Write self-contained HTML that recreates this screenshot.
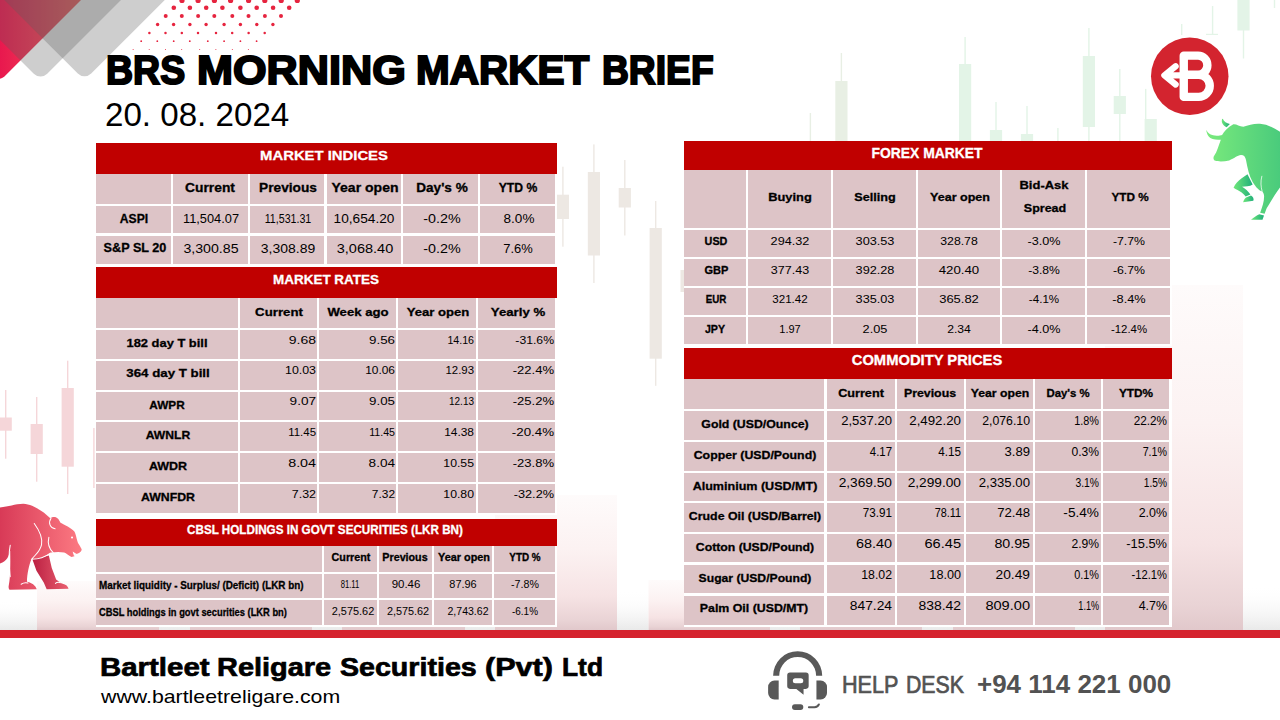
<!DOCTYPE html>
<html lang="en"><head><meta charset="utf-8"><title>BRS Morning Market Brief</title>
<style>
*{margin:0;padding:0;box-sizing:border-box}
html,body{width:1280px;height:720px;overflow:hidden;background:#fff}
body{font-family:"Liberation Sans",sans-serif;color:#000}
#slide{position:relative;width:1280px;height:720px;overflow:hidden;background:#fff}
#bg,#art{position:absolute;left:0;top:0;pointer-events:none}
.tbl{position:absolute;background:#fff}
.hd,.c{position:absolute}
.hd{background:#c00000}
.c{background:#ddc4c7}
.t{position:absolute;white-space:nowrap;line-height:1;display:block}
.t.al{transform-origin:0 50%;transform:scaleX(var(--k))}
.t.ac{transform-origin:50% 50%;transform:translateX(-50%) scaleX(var(--k))}
.t.ar{transform-origin:100% 50%;transform:translateX(-100%) scaleX(var(--k))}
.b{font-weight:700}
h1,p{font-weight:400;font-size:inherit}
</style></head><body><div id="slide">
<svg id="bg" width="1280" height="720" viewBox="0 0 1280 720">
<defs>
<linearGradient id="gRed" gradientUnits="userSpaceOnUse" x1="0" y1="0" x2="80" y2="0"><stop offset="0" stop-color="#e8184e"/><stop offset="1" stop-color="#f85a5b"/></linearGradient>
<linearGradient id="gBear" x1="0" y1="0" x2="1" y2="0"><stop offset="0" stop-color="#d83a57"/><stop offset="1" stop-color="#fc7a82"/></linearGradient>
<linearGradient id="gBearD" x1="0" y1="0" x2="1" y2="0"><stop offset="0" stop-color="#bb1f42"/><stop offset="1" stop-color="#ea6070"/></linearGradient>
<linearGradient id="gBull" x1="0" y1="0" x2="1" y2="0"><stop offset="0" stop-color="#7aea7c"/><stop offset="1" stop-color="#4acb7c"/></linearGradient>
<linearGradient id="gBullD" x1="0" y1="0" x2="1" y2="0"><stop offset="0" stop-color="#6fe77a"/><stop offset="1" stop-color="#1fae7a"/></linearGradient>
<linearGradient id="gBar" x1="0" y1="0" x2="0" y2="1"><stop offset="0" stop-color="#fefbfb"/><stop offset="0.4" stop-color="#fcf2f2"/><stop offset="0.75" stop-color="#f6e3e4"/><stop offset="0.93" stop-color="#e9d3d5"/><stop offset="1" stop-color="#e1c8cb"/></linearGradient>
<linearGradient id="gBarW" x1="0" y1="0" x2="0" y2="1"><stop offset="0" stop-color="#ffffff" stop-opacity="0"/><stop offset="1" stop-color="#e9e9e9" stop-opacity="1"/></linearGradient>
</defs>
<rect x="0" y="600" width="37" height="30" fill="url(#gBarW)"/>
<rect x="159" y="600" width="31" height="30" fill="url(#gBarW)"/>
<rect x="312" y="600" width="30" height="30" fill="url(#gBarW)"/>
<rect x="465" y="600" width="30" height="30" fill="url(#gBarW)"/>
<rect x="617" y="590" width="31.5" height="40" fill="url(#gBarW)"/>
<rect x="770" y="600" width="30" height="30" fill="url(#gBarW)"/>
<rect x="922" y="600" width="31" height="30" fill="url(#gBarW)"/>
<rect x="1075" y="600" width="30" height="30" fill="url(#gBarW)"/>
<rect x="1243" y="585" width="37" height="45" fill="url(#gBarW)"/>
<rect x="37" y="581" width="122" height="49" fill="url(#gBar)"/>
<rect x="190" y="560" width="122" height="70" fill="url(#gBar)"/>
<rect x="342" y="540" width="123" height="90" fill="url(#gBar)"/>
<rect x="495" y="495" width="122" height="135" fill="url(#gBar)"/>
<rect x="648.5" y="580" width="121.5" height="50" fill="url(#gBar)"/>
<rect x="800" y="540" width="122" height="90" fill="url(#gBar)"/>
<rect x="953" y="470" width="122" height="160" fill="url(#gBar)"/>
<rect x="1105" y="285" width="138" height="345" fill="url(#gBar)"/>
<rect x="5" y="390" width="1.4" height="68.7" fill="#f5d6d9"/>
<rect x="-0.4" y="417.5" width="12.2" height="13.2" fill="#f5d6d9"/>
<rect x="36" y="397" width="1.4" height="84.7" fill="#f5d6d9"/>
<rect x="30.6" y="424" width="12.2" height="30" fill="#f5d6d9"/>
<rect x="67" y="360.7" width="1.4" height="133.3" fill="#f5d6d9"/>
<rect x="61.6" y="388" width="12.2" height="78.7" fill="#f5d6d9"/>
<rect x="93.2" y="428" width="1.4" height="60" fill="#f5d6d9"/>
<rect x="562.2" y="166.7" width="1.4" height="80" fill="#ede8e3"/>
<rect x="556.8" y="194.7" width="12.2" height="24.3" fill="#ede8e3"/>
<rect x="593.2" y="144.4" width="1.4" height="138.6" fill="#ede8e3"/>
<rect x="587.8" y="172" width="12.2" height="83.5" fill="#ede8e3"/>
<rect x="624.1" y="160" width="1.4" height="75.5" fill="#ede8e3"/>
<rect x="618.7" y="188" width="12.2" height="19.5" fill="#ede8e3"/>
<rect x="655" y="201" width="1.4" height="184.8" fill="#ede8e3"/>
<rect x="649.6" y="228" width="12.2" height="130.7" fill="#ede8e3"/>
<rect x="685.9" y="250" width="1.4" height="60" fill="#ede8e3"/>
<rect x="680.5" y="270" width="12.2" height="22" fill="#ede8e3"/>
<rect x="809.7" y="113" width="1.4" height="37" fill="#e8efe4"/>
<rect x="840.7" y="53" width="1.4" height="97" fill="#e8efe4"/>
<rect x="835.3" y="81" width="12.2" height="69" fill="#e8efe4"/>
<rect x="964.4" y="37" width="1.4" height="113" fill="#e3f4e7"/>
<rect x="959" y="64" width="12.2" height="86" fill="#e3f4e7"/>
<rect x="995.3" y="102" width="1.4" height="48" fill="#e3f4e7"/>
<rect x="989.9" y="130" width="12.2" height="20" fill="#e3f4e7"/>
<rect x="1026.3" y="106" width="1.4" height="44" fill="#e3f4e7"/>
<rect x="1020.9" y="134" width="12.2" height="16" fill="#e3f4e7"/>
<rect x="1057.2" y="128" width="1.4" height="22" fill="#e3f4e7"/>
<rect x="1088.2" y="28" width="1.4" height="117" fill="#e3f4e7"/>
<rect x="1082.8" y="56" width="12.2" height="71" fill="#e3f4e7"/>
<rect x="1119.1" y="69" width="1.4" height="76" fill="#e3f4e7"/>
<rect x="1113.7" y="96" width="12.2" height="18" fill="#e3f4e7"/>
<rect x="1150" y="119" width="1.4" height="31" fill="#e3f4e7"/>
<rect x="1144.6" y="119" width="12.2" height="31" fill="#e3f4e7"/>
<rect x="1145" y="88.9" width="1.4" height="61.1" fill="#e3f4e7"/>
<rect x="1181" y="24" width="1.4" height="11" fill="#e3f4e7"/>
<rect x="1242.8" y="0" width="1.4" height="58.5" fill="#e3f4e7"/>
<rect x="1237.4" y="0" width="12.2" height="30.5" fill="#e3f4e7"/>
<rect x="1273.8" y="0" width="1.4" height="8" fill="#e3f4e7"/>
<rect x="1211.9" y="6" width="1.4" height="28.5" fill="#e3f4e7"/><rect x="1206" y="33.8" width="12" height="1.2" fill="#e3f4e7"/>
<circle cx="182.0" cy="0.5" r="2.6" fill="#e6243f"/>
<circle cx="198.1" cy="0.5" r="2.6" fill="#e6243f"/>
<circle cx="214.4" cy="0.5" r="2.6" fill="#e6243f"/>
<circle cx="230.6" cy="0.5" r="2.6" fill="#e6243f"/>
<circle cx="248.6" cy="0.5" r="2.6" fill="#e6243f"/>
<circle cx="264.8" cy="0.5" r="2.6" fill="#e6243f"/>
<circle cx="281.2" cy="0.5" r="2.6" fill="#e6243f"/>
<circle cx="297.3" cy="0.5" r="2.6" fill="#e6243f"/>
<circle cx="173.8" cy="7.8" r="2.3" fill="#e6243f"/>
<circle cx="189.9" cy="7.8" r="2.3" fill="#e6243f"/>
<circle cx="206.2" cy="7.8" r="2.3" fill="#e6243f"/>
<circle cx="222.4" cy="7.8" r="2.3" fill="#e6243f"/>
<circle cx="240.4" cy="7.8" r="2.3" fill="#e6243f"/>
<circle cx="256.7" cy="7.8" r="2.3" fill="#e6243f"/>
<circle cx="273.1" cy="7.8" r="2.3" fill="#e6243f"/>
<circle cx="289.2" cy="7.8" r="2.3" fill="#e6243f"/>
<circle cx="165.7" cy="16.1" r="2" fill="#e6243f"/>
<circle cx="181.8" cy="16.1" r="2" fill="#e6243f"/>
<circle cx="198.1" cy="16.1" r="2" fill="#e6243f"/>
<circle cx="214.3" cy="16.1" r="2" fill="#e6243f"/>
<circle cx="232.3" cy="16.1" r="2" fill="#e6243f"/>
<circle cx="248.5" cy="16.1" r="2" fill="#e6243f"/>
<circle cx="264.9" cy="16.1" r="2" fill="#e6243f"/>
<circle cx="281.0" cy="16.1" r="2" fill="#e6243f"/>
<circle cx="157.6" cy="24.5" r="1.7" fill="#e6243f"/>
<circle cx="173.6" cy="24.5" r="1.7" fill="#e6243f"/>
<circle cx="189.9" cy="24.5" r="1.7" fill="#e6243f"/>
<circle cx="206.1" cy="24.5" r="1.7" fill="#e6243f"/>
<circle cx="224.1" cy="24.5" r="1.7" fill="#e6243f"/>
<circle cx="240.4" cy="24.5" r="1.7" fill="#e6243f"/>
<circle cx="256.8" cy="24.5" r="1.7" fill="#e6243f"/>
<circle cx="272.9" cy="24.5" r="1.7" fill="#e6243f"/>
<circle cx="149.4" cy="33.0" r="1.25" fill="#e6243f"/>
<circle cx="165.5" cy="33.0" r="1.25" fill="#e6243f"/>
<circle cx="181.8" cy="33.0" r="1.25" fill="#e6243f"/>
<circle cx="198.0" cy="33.0" r="1.25" fill="#e6243f"/>
<circle cx="216.0" cy="33.0" r="1.25" fill="#e6243f"/>
<circle cx="232.2" cy="33.0" r="1.25" fill="#e6243f"/>
<circle cx="248.6" cy="33.0" r="1.25" fill="#e6243f"/>
<circle cx="264.7" cy="33.0" r="1.25" fill="#e6243f"/>
<circle cx="141.2" cy="41.2" r="0.9" fill="#e6243f"/>
<circle cx="157.3" cy="41.2" r="0.9" fill="#e6243f"/>
<circle cx="173.7" cy="41.2" r="0.9" fill="#e6243f"/>
<circle cx="189.8" cy="41.2" r="0.9" fill="#e6243f"/>
<circle cx="207.8" cy="41.2" r="0.9" fill="#e6243f"/>
<circle cx="224.1" cy="41.2" r="0.9" fill="#e6243f"/>
<circle cx="240.4" cy="41.2" r="0.9" fill="#e6243f"/>
<circle cx="256.6" cy="41.2" r="0.9" fill="#e6243f"/>
<circle cx="133.1" cy="49.4" r="0.5" fill="#e6243f"/>
<circle cx="149.2" cy="49.4" r="0.5" fill="#e6243f"/>
<circle cx="165.5" cy="49.4" r="0.5" fill="#e6243f"/>
<circle cx="181.7" cy="49.4" r="0.5" fill="#e6243f"/>
<circle cx="199.7" cy="49.4" r="0.5" fill="#e6243f"/>
<circle cx="215.9" cy="49.4" r="0.5" fill="#e6243f"/>
<circle cx="232.3" cy="49.4" r="0.5" fill="#e6243f"/>
<circle cx="248.4" cy="49.4" r="0.5" fill="#e6243f"/>
<path fill="url(#gRed)" d="M91 -10 L4.2 76.8 Q-0.5 80.5 -5.2 76.8 L-50 32 L-50 -10 Z"/>
<rect x="-89.5" y="-49.5" width="130" height="130" rx="9.5" fill="rgba(93,93,93,0.303)" transform="rotate(45 40.5 80.5)"/>
<rect x="-45.5" y="-49.7" width="130" height="130" rx="9.5" fill="rgba(93,93,93,0.303)" transform="rotate(45 84.5 80.3)"/>
<rect x="0" y="630" width="1280" height="8" fill="#d5232e"/>
</svg>
<section class="tbl" id="indices" style="left:96px;top:142.8px;width:461px;height:123.3px">
<div class="hd" style="left:0;top:0;width:461px;height:31px"><span class="t ac b" id="t1" style="left:228.07px;top:5.87px;font-size:13.70px;--k:1.0846;color:#fff;-webkit-text-stroke:0.3px">MARKET INDICES</span></div>
<div class="c" style="left:0px;top:31px;width:75px;height:29.9px"></div>
<div class="c" style="left:76.9px;top:31px;width:75.1px;height:29.9px"><span class="t ac b" id="t2" style="left:37.45px;top:8.06px;font-size:12.80px;--k:1.0798;-webkit-text-stroke:0.3px">Current</span></div>
<div class="c" style="left:154px;top:31px;width:74px;height:29.9px"><span class="t ac b" id="t3" style="left:38.06px;top:8.06px;font-size:12.80px;--k:1.0697;-webkit-text-stroke:0.3px">Previous</span></div>
<div class="c" style="left:230.9px;top:31px;width:73.9px;height:29.9px"><span class="t ac b" id="t4" style="left:38.05px;top:8.06px;font-size:12.80px;--k:1.0954;-webkit-text-stroke:0.3px">Year open</span></div>
<div class="c" style="left:307.2px;top:31px;width:74.8px;height:29.9px"><span class="t ac b" id="t5" style="left:38.42px;top:8.06px;font-size:12.80px;--k:1.0612;-webkit-text-stroke:0.3px">Day's %</span></div>
<div class="c" style="left:384.1px;top:31px;width:75px;height:29.9px"><span class="t ac b" id="t6" style="left:38.10px;top:8.06px;font-size:12.80px;--k:0.9502;-webkit-text-stroke:0.3px">YTD %</span></div>
<div class="c" style="left:0px;top:63px;width:75px;height:27.7px"><span class="t ac b" id="t7" style="left:37.71px;top:7.16px;font-size:12.80px;--k:0.9484;-webkit-text-stroke:0.3px">ASPI</span></div>
<div class="c" style="left:76.9px;top:63px;width:75.1px;height:27.7px"><span class="t ac" id="t8" style="left:38.21px;top:7.31px;font-size:12.80px;--k:1.0007">11,504.07</span></div>
<div class="c" style="left:154px;top:63px;width:74px;height:27.7px"><span class="t ac" id="t9" style="left:37.80px;top:7.31px;font-size:12.80px;--k:0.8324">11,531.31</span></div>
<div class="c" style="left:230.9px;top:63px;width:73.9px;height:27.7px"><span class="t ac" id="t10" style="left:37.51px;top:7.31px;font-size:12.80px;--k:1.0684">10,654.20</span></div>
<div class="c" style="left:307.2px;top:63px;width:74.8px;height:27.7px"><span class="t ac" id="t11" style="left:39.24px;top:7.31px;font-size:12.80px;--k:1.1180">-0.2%</span></div>
<div class="c" style="left:384.1px;top:63px;width:75px;height:27.7px"><span class="t ac" id="t12" style="left:38.80px;top:7.31px;font-size:12.80px;--k:1.0559">8.0%</span></div>
<div class="c" style="left:0px;top:92.9px;width:75px;height:28.7px"><span class="t ac b" id="t13" style="left:38.86px;top:6.78px;font-size:12.80px;--k:0.9876;-webkit-text-stroke:0.3px">S&amp;P SL 20</span></div>
<div class="c" style="left:76.9px;top:92.9px;width:75.1px;height:28.7px"><span class="t ac" id="t14" style="left:37.86px;top:6.93px;font-size:12.80px;--k:1.1067">3,300.85</span></div>
<div class="c" style="left:154px;top:92.9px;width:74px;height:28.7px"><span class="t ac" id="t15" style="left:37.56px;top:6.93px;font-size:12.80px;--k:1.0906">3,308.89</span></div>
<div class="c" style="left:230.9px;top:92.9px;width:73.9px;height:28.7px"><span class="t ac" id="t16" style="left:37.82px;top:6.93px;font-size:12.80px;--k:1.1329">3,068.40</span></div>
<div class="c" style="left:307.2px;top:92.9px;width:74.8px;height:28.7px"><span class="t ac" id="t17" style="left:39.24px;top:6.93px;font-size:12.80px;--k:1.1180">-0.2%</span></div>
<div class="c" style="left:384.1px;top:92.9px;width:75px;height:28.7px"><span class="t ac" id="t18" style="left:38.14px;top:6.93px;font-size:12.80px;--k:1.0108">7.6%</span></div>
</section>
<section class="tbl" id="rates" style="left:96px;top:266.8px;width:461px;height:248.1px">
<div class="hd" style="left:0;top:0;width:461px;height:31.2px"><span class="t ac b" id="t19" style="left:230.06px;top:6.06px;font-size:13.70px;--k:0.9824;color:#fff;-webkit-text-stroke:0.3px">MARKET RATES</span></div>
<div class="c" style="left:0px;top:31.2px;width:142px;height:30.2px"></div>
<div class="c" style="left:144.1px;top:31.2px;width:76.8px;height:30.2px"><span class="t ac b" id="t20" style="left:39.02px;top:7.57px;font-size:11.60px;--k:1.1403;-webkit-text-stroke:0.3px">Current</span></div>
<div class="c" style="left:223px;top:31.2px;width:76.9px;height:30.2px"><span class="t ac b" id="t21" style="left:39.25px;top:7.57px;font-size:11.60px;--k:1.1351;-webkit-text-stroke:0.3px">Week ago</span></div>
<div class="c" style="left:302px;top:31.2px;width:77.8px;height:30.2px"><span class="t ac b" id="t22" style="left:39.80px;top:7.57px;font-size:11.60px;--k:1.1313;-webkit-text-stroke:0.3px">Year open</span></div>
<div class="c" style="left:382px;top:31.2px;width:76.9px;height:30.2px"><span class="t ac b" id="t23" style="left:39.68px;top:7.57px;font-size:11.60px;--k:1.1374;-webkit-text-stroke:0.3px">Yearly %</span></div>
<div class="c" style="left:0px;top:63.4px;width:142px;height:28.8px"><span class="t ac b" id="t24" style="left:71.22px;top:6.87px;font-size:11.60px;--k:1.1117;-webkit-text-stroke:0.3px">182 day T bill</span></div>
<div class="c" style="left:144.1px;top:63.4px;width:76.8px;height:28.8px"><span class="t ar" id="t25" style="left:76.01px;top:4.72px;font-size:11.40px;--k:1.2274">9.68</span></div>
<div class="c" style="left:223px;top:63.4px;width:76.9px;height:28.8px"><span class="t ar" id="t26" style="left:75.69px;top:4.72px;font-size:11.40px;--k:1.1679">9.56</span></div>
<div class="c" style="left:302px;top:63.4px;width:77.8px;height:28.8px"><span class="t ar" id="t27" style="left:75.91px;top:4.72px;font-size:11.40px;--k:0.9336">14.16</span></div>
<div class="c" style="left:382px;top:63.4px;width:76.9px;height:28.8px"><span class="t ar" id="t28" style="left:76.04px;top:4.72px;font-size:11.40px;--k:1.0706">-31.6%</span></div>
<div class="c" style="left:0px;top:94.2px;width:142px;height:29px"><span class="t ac b" id="t29" style="left:71.88px;top:6.48px;font-size:11.60px;--k:1.1462;-webkit-text-stroke:0.3px">364 day T bill</span></div>
<div class="c" style="left:144.1px;top:94.2px;width:76.8px;height:29px"><span class="t ar" id="t30" style="left:75.96px;top:4.42px;font-size:11.40px;--k:1.0863">10.03</span></div>
<div class="c" style="left:223px;top:94.2px;width:76.9px;height:29px"><span class="t ar" id="t31" style="left:75.65px;top:4.42px;font-size:11.40px;--k:1.0472">10.06</span></div>
<div class="c" style="left:302px;top:94.2px;width:77.8px;height:29px"><span class="t ar" id="t32" style="left:75.94px;top:4.42px;font-size:11.40px;--k:1.0011">12.93</span></div>
<div class="c" style="left:382px;top:94.2px;width:76.9px;height:29px"><span class="t ar" id="t33" style="left:76.05px;top:4.42px;font-size:11.40px;--k:1.1456">-22.4%</span></div>
<div class="c" style="left:0px;top:125.2px;width:142px;height:28px"><span class="t ac b" id="t34" style="left:71.28px;top:6.68px;font-size:11.60px;--k:1.0139;-webkit-text-stroke:0.3px">AWPR</span></div>
<div class="c" style="left:144.1px;top:125.2px;width:76.8px;height:28px"><span class="t ar" id="t35" style="left:76.00px;top:4.32px;font-size:11.40px;--k:1.1908">9.07</span></div>
<div class="c" style="left:223px;top:125.2px;width:76.9px;height:28px"><span class="t ar" id="t36" style="left:75.69px;top:4.32px;font-size:11.40px;--k:1.1679">9.05</span></div>
<div class="c" style="left:302px;top:125.2px;width:77.8px;height:28px"><span class="t ar" id="t37" style="left:75.89px;top:4.32px;font-size:11.40px;--k:0.8768">12.13</span></div>
<div class="c" style="left:382px;top:125.2px;width:76.9px;height:28px"><span class="t ar" id="t38" style="left:76.05px;top:4.32px;font-size:11.40px;--k:1.1456">-25.2%</span></div>
<div class="c" style="left:0px;top:155.2px;width:142px;height:29px"><span class="t ac b" id="t39" style="left:71.70px;top:6.68px;font-size:11.60px;--k:1.0468;-webkit-text-stroke:0.3px">AWNLR</span></div>
<div class="c" style="left:144.1px;top:155.2px;width:76.8px;height:29px"><span class="t ar" id="t40" style="left:75.94px;top:4.72px;font-size:11.40px;--k:1.0028">11.45</span></div>
<div class="c" style="left:223px;top:155.2px;width:76.9px;height:29px"><span class="t ar" id="t41" style="left:75.61px;top:4.72px;font-size:11.40px;--k:0.9333">11.45</span></div>
<div class="c" style="left:302px;top:155.2px;width:77.8px;height:29px"><span class="t ar" id="t42" style="left:75.95px;top:4.72px;font-size:11.40px;--k:1.0472">14.38</span></div>
<div class="c" style="left:382px;top:155.2px;width:76.9px;height:29px"><span class="t ar" id="t43" style="left:76.05px;top:4.72px;font-size:11.40px;--k:1.1679">-20.4%</span></div>
<div class="c" style="left:0px;top:186.2px;width:142px;height:29px"><span class="t ac b" id="t44" style="left:71.71px;top:6.68px;font-size:11.60px;--k:1.0763;-webkit-text-stroke:0.3px">AWDR</span></div>
<div class="c" style="left:144.1px;top:186.2px;width:76.8px;height:29px"><span class="t ar" id="t45" style="left:76.02px;top:4.63px;font-size:11.40px;--k:1.2549">8.04</span></div>
<div class="c" style="left:223px;top:186.2px;width:76.9px;height:29px"><span class="t ar" id="t46" style="left:75.70px;top:4.63px;font-size:11.40px;--k:1.1908">8.04</span></div>
<div class="c" style="left:302px;top:186.2px;width:77.8px;height:29px"><span class="t ar" id="t47" style="left:75.96px;top:4.63px;font-size:11.40px;--k:1.0756">10.55</span></div>
<div class="c" style="left:382px;top:186.2px;width:76.9px;height:29px"><span class="t ar" id="t48" style="left:76.05px;top:4.63px;font-size:11.40px;--k:1.1456">-23.8%</span></div>
<div class="c" style="left:0px;top:217.2px;width:142px;height:29.2px"><span class="t ac b" id="t49" style="left:71.82px;top:6.68px;font-size:11.60px;--k:1.0601;-webkit-text-stroke:0.3px">AWNFDR</span></div>
<div class="c" style="left:144.1px;top:217.2px;width:76.8px;height:29.2px"><span class="t ar" id="t50" style="left:75.97px;top:4.63px;font-size:11.40px;--k:1.0900">7.32</span></div>
<div class="c" style="left:223px;top:217.2px;width:76.9px;height:29.2px"><span class="t ar" id="t51" style="left:75.65px;top:4.63px;font-size:11.40px;--k:1.0442">7.32</span></div>
<div class="c" style="left:302px;top:217.2px;width:77.8px;height:29.2px"><span class="t ar" id="t52" style="left:75.96px;top:4.63px;font-size:11.40px;--k:1.0756">10.80</span></div>
<div class="c" style="left:382px;top:217.2px;width:76.9px;height:29.2px"><span class="t ar" id="t53" style="left:76.04px;top:4.63px;font-size:11.40px;--k:1.1150">-32.2%</span></div>
</section>
<section class="tbl" id="cbsl" style="left:96px;top:519px;width:461px;height:107.5px">
<div class="hd" style="left:0;top:0;width:461px;height:27px"><span class="t ac b" id="t54" style="left:229.33px;top:4.87px;font-size:12.20px;--k:0.9571;color:#fff;-webkit-text-stroke:0.3px">CBSL HOLDINGS IN GOVT SECURITIES (LKR BN)</span></div>
<div class="c" style="left:0px;top:27px;width:225.8px;height:25.7px"></div>
<div class="c" style="left:228.1px;top:27px;width:52.9px;height:25.7px"><span class="t ac b" id="t55" style="left:26.73px;top:6.86px;font-size:10.20px;--k:1.0535;-webkit-text-stroke:0.3px">Current</span></div>
<div class="c" style="left:282.9px;top:27px;width:53.2px;height:25.7px"><span class="t ac b" id="t56" style="left:26.37px;top:6.86px;font-size:10.20px;--k:1.0515;-webkit-text-stroke:0.3px">Previous</span></div>
<div class="c" style="left:338px;top:27px;width:57.7px;height:25.7px"><span class="t ac b" id="t57" style="left:29.92px;top:6.86px;font-size:10.20px;--k:1.0666;-webkit-text-stroke:0.3px">Year open</span></div>
<div class="c" style="left:397.6px;top:27px;width:61.5px;height:25.7px"><span class="t ac b" id="t58" style="left:31.68px;top:6.86px;font-size:10.20px;--k:0.9688;-webkit-text-stroke:0.3px">YTD %</span></div>
<div class="c" style="left:0px;top:54.5px;width:225.8px;height:24.5px"><span class="t al b" id="t59" style="left:2.55px;top:6.35px;font-size:11.20px;--k:0.8824;-webkit-text-stroke:0.3px">Market liquidity - Surplus/ (Deficit) (LKR bn)</span></div>
<div class="c" style="left:228.1px;top:54.5px;width:52.9px;height:24.5px"><span class="t ac" id="t61" style="left:26.37px;top:6.70px;font-size:10.20px;--k:0.7499">81.11</span></div>
<div class="c" style="left:282.9px;top:54.5px;width:53.2px;height:24.5px"><span class="t ac" id="t62" style="left:26.76px;top:6.70px;font-size:10.20px;--k:1.1267">90.46</span></div>
<div class="c" style="left:338px;top:54.5px;width:57.7px;height:24.5px"><span class="t ac" id="t63" style="left:29.17px;top:6.70px;font-size:10.20px;--k:1.0725">87.96</span></div>
<div class="c" style="left:397.6px;top:54.5px;width:61.5px;height:24.5px"><span class="t ac" id="t64" style="left:31.13px;top:6.70px;font-size:10.20px;--k:1.0469">-7.8%</span></div>
<div class="c" style="left:0px;top:81px;width:225.8px;height:24.8px"><span class="t al b" id="t60" style="left:2.55px;top:6.55px;font-size:11.20px;--k:0.8336;-webkit-text-stroke:0.3px">CBSL holdings in govt securities (LKR bn)</span></div>
<div class="c" style="left:228.1px;top:81px;width:52.9px;height:24.8px"><span class="t ac" id="t65" style="left:29.32px;top:7.01px;font-size:10.20px;--k:1.0703">2,575.62</span></div>
<div class="c" style="left:282.9px;top:81px;width:53.2px;height:24.8px"><span class="t ac" id="t66" style="left:29.42px;top:7.01px;font-size:10.20px;--k:1.0653">2,575.62</span></div>
<div class="c" style="left:338px;top:81px;width:57.7px;height:24.8px"><span class="t ac" id="t67" style="left:34.08px;top:7.01px;font-size:10.20px;--k:1.0328">2,743.62</span></div>
<div class="c" style="left:397.6px;top:81px;width:61.5px;height:24.8px"><span class="t ac" id="t68" style="left:31.08px;top:7.01px;font-size:10.20px;--k:0.9754">-6.1%</span></div>
</section>
<section class="tbl" id="forex" style="left:684px;top:141px;width:488px;height:204.7px">
<div class="hd" style="left:0;top:0;width:488px;height:29px"><span class="t ac b" id="t69" style="left:243.14px;top:4.86px;font-size:14.20px;--k:0.9786;color:#fff;-webkit-text-stroke:0.3px">FOREX MARKET</span></div>
<div class="c" style="left:0px;top:29px;width:62px;height:58px"></div>
<div class="c" style="left:64px;top:29px;width:83px;height:58px"><span class="t ac b" id="t70" style="left:42.05px;top:21.06px;font-size:11.60px;--k:1.1070;-webkit-text-stroke:0.3px">Buying</span></div>
<div class="c" style="left:149.2px;top:29px;width:82.8px;height:58px"><span class="t ac b" id="t71" style="left:42.14px;top:21.06px;font-size:11.60px;--k:1.0890;-webkit-text-stroke:0.3px">Selling</span></div>
<div class="c" style="left:234px;top:29px;width:82.2px;height:58px"><span class="t ac b" id="t72" style="left:41.64px;top:20.66px;font-size:11.60px;--k:1.0825;-webkit-text-stroke:0.3px">Year open</span></div>
<div class="c" style="left:318.2px;top:29px;width:82.8px;height:58px"><span class="t ac b" id="t73" style="left:41.59px;top:8.86px;font-size:11.60px;--k:1.1182;-webkit-text-stroke:0.3px">Bid-Ask</span><span class="t ac b" id="t74" style="left:42.34px;top:31.86px;font-size:11.60px;--k:1.0785;-webkit-text-stroke:0.3px">Spread</span></div>
<div class="c" style="left:403px;top:29px;width:82.7px;height:58px"><span class="t ac b" id="t75" style="left:42.86px;top:20.66px;font-size:11.60px;--k:1.0135;-webkit-text-stroke:0.3px">YTD %</span></div>
<div class="c" style="left:0px;top:88.6px;width:62px;height:27.4px"><span class="t ac b" id="t76" style="left:31.92px;top:5.96px;font-size:11.00px;--k:0.9793;-webkit-text-stroke:0.3px">USD</span></div>
<div class="c" style="left:64px;top:88.6px;width:83px;height:27.4px"><span class="t ac" id="t77" style="left:41.94px;top:5.91px;font-size:10.60px;--k:1.1965">294.32</span></div>
<div class="c" style="left:149.2px;top:88.6px;width:82.8px;height:27.4px"><span class="t ac" id="t78" style="left:41.64px;top:5.91px;font-size:10.60px;--k:1.1996">303.53</span></div>
<div class="c" style="left:234px;top:88.6px;width:82.2px;height:27.4px"><span class="t ac" id="t79" style="left:41.24px;top:5.91px;font-size:10.60px;--k:1.1566">328.78</span></div>
<div class="c" style="left:318.2px;top:88.6px;width:82.8px;height:27.4px"><span class="t ac" id="t80" style="left:41.75px;top:5.91px;font-size:10.60px;--k:1.1927">-3.0%</span></div>
<div class="c" style="left:403px;top:88.6px;width:82.7px;height:27.4px"><span class="t ac" id="t81" style="left:42.36px;top:5.91px;font-size:10.60px;--k:1.1609">-7.7%</span></div>
<div class="c" style="left:0px;top:118px;width:62px;height:27px"><span class="t ac b" id="t82" style="left:32.47px;top:5.65px;font-size:11.00px;--k:1.0000;-webkit-text-stroke:0.3px">GBP</span></div>
<div class="c" style="left:64px;top:118px;width:83px;height:27px"><span class="t ac" id="t83" style="left:41.94px;top:5.60px;font-size:10.60px;--k:1.1812">377.43</span></div>
<div class="c" style="left:149.2px;top:118px;width:82.8px;height:27px"><span class="t ac" id="t84" style="left:41.64px;top:5.60px;font-size:10.60px;--k:1.1996">392.28</span></div>
<div class="c" style="left:234px;top:118px;width:82.2px;height:27px"><span class="t ac" id="t85" style="left:41.23px;top:5.60px;font-size:10.60px;--k:1.2488">420.40</span></div>
<div class="c" style="left:318.2px;top:118px;width:82.8px;height:27px"><span class="t ac" id="t86" style="left:41.77px;top:5.60px;font-size:10.60px;--k:1.1467">-3.8%</span></div>
<div class="c" style="left:403px;top:118px;width:82.7px;height:27px"><span class="t ac" id="t87" style="left:42.36px;top:5.60px;font-size:10.60px;--k:1.1609">-6.7%</span></div>
<div class="c" style="left:0px;top:147.2px;width:62px;height:26.8px"><span class="t ac b" id="t88" style="left:31.78px;top:6.08px;font-size:11.00px;--k:0.8891;-webkit-text-stroke:0.3px">EUR</span></div>
<div class="c" style="left:64px;top:147.2px;width:83px;height:26.8px"><span class="t ac" id="t89" style="left:41.94px;top:6.02px;font-size:10.60px;--k:1.0920">321.42</span></div>
<div class="c" style="left:149.2px;top:147.2px;width:82.8px;height:26.8px"><span class="t ac" id="t90" style="left:41.64px;top:6.02px;font-size:10.60px;--k:1.1996">335.03</span></div>
<div class="c" style="left:234px;top:147.2px;width:82.2px;height:26.8px"><span class="t ac" id="t91" style="left:41.23px;top:6.02px;font-size:10.60px;--k:1.2242">365.82</span></div>
<div class="c" style="left:318.2px;top:147.2px;width:82.8px;height:26.8px"><span class="t ac" id="t92" style="left:41.78px;top:6.02px;font-size:10.60px;--k:1.0936">-4.1%</span></div>
<div class="c" style="left:403px;top:147.2px;width:82.7px;height:26.8px"><span class="t ac" id="t93" style="left:42.35px;top:6.02px;font-size:10.60px;--k:1.2033">-8.4%</span></div>
<div class="c" style="left:0px;top:176.2px;width:62px;height:26.8px"><span class="t ac b" id="t94" style="left:31.48px;top:6.58px;font-size:11.00px;--k:0.9648;-webkit-text-stroke:0.3px">JPY</span></div>
<div class="c" style="left:64px;top:176.2px;width:83px;height:26.8px"><span class="t ac" id="t95" style="left:41.94px;top:6.52px;font-size:10.60px;--k:1.0373">1.97</span></div>
<div class="c" style="left:149.2px;top:176.2px;width:82.8px;height:26.8px"><span class="t ac" id="t96" style="left:41.63px;top:6.52px;font-size:10.60px;--k:1.2013">2.05</span></div>
<div class="c" style="left:234px;top:176.2px;width:82.2px;height:26.8px"><span class="t ac" id="t97" style="left:41.24px;top:6.52px;font-size:10.60px;--k:1.1483">2.34</span></div>
<div class="c" style="left:318.2px;top:176.2px;width:82.8px;height:26.8px"><span class="t ac" id="t98" style="left:41.75px;top:6.52px;font-size:10.60px;--k:1.1892">-4.0%</span></div>
<div class="c" style="left:403px;top:176.2px;width:82.7px;height:26.8px"><span class="t ac" id="t99" style="left:42.39px;top:6.52px;font-size:10.60px;--k:1.0748">-12.4%</span></div>
</section>
<section class="tbl" id="commodity" style="left:684px;top:348px;width:488px;height:278.7px">
<div class="hd" style="left:0;top:0;width:488px;height:31px"><span class="t ac b" id="t100" style="left:242.64px;top:4.66px;font-size:14.20px;--k:1.0396;color:#fff;-webkit-text-stroke:0.3px">COMMODITY PRICES</span></div>
<div class="c" style="left:0px;top:31px;width:140px;height:30px"></div>
<div class="c" style="left:143px;top:31px;width:68.2px;height:30px"><span class="t ac b" id="t101" style="left:34.19px;top:8.66px;font-size:11.20px;--k:1.1309;-webkit-text-stroke:0.3px">Current</span></div>
<div class="c" style="left:213.2px;top:31px;width:66.6px;height:30px"><span class="t ac b" id="t102" style="left:33.02px;top:8.66px;font-size:11.20px;--k:1.1034;-webkit-text-stroke:0.3px">Previous</span></div>
<div class="c" style="left:282px;top:31px;width:67.2px;height:30px"><span class="t ac b" id="t103" style="left:33.76px;top:8.66px;font-size:11.20px;--k:1.0925;-webkit-text-stroke:0.3px">Year open</span></div>
<div class="c" style="left:351.4px;top:31px;width:65.6px;height:30px"><span class="t ac b" id="t104" style="left:32.62px;top:8.66px;font-size:11.20px;--k:1.0161;-webkit-text-stroke:0.3px">Day's %</span></div>
<div class="c" style="left:419px;top:31px;width:66.3px;height:30px"><span class="t ac b" id="t105" style="left:32.57px;top:8.66px;font-size:11.20px;--k:1.0533;-webkit-text-stroke:0.3px">YTD%</span></div>
<div class="c" style="left:0px;top:63px;width:140px;height:29px"><span class="t ac b" id="t106" style="left:71.03px;top:6.66px;font-size:11.60px;--k:1.0616;-webkit-text-stroke:0.3px">Gold (USD/Ounce)</span></div>
<div class="c" style="left:143px;top:63px;width:68.2px;height:29px"><span class="t ar" id="t107" style="left:65.34px;top:4.01px;font-size:12.00px;--k:1.0885">2,537.20</span></div>
<div class="c" style="left:213.2px;top:63px;width:66.6px;height:29px"><span class="t ar" id="t108" style="left:64.24px;top:4.01px;font-size:12.00px;--k:1.1076">2,492.20</span></div>
<div class="c" style="left:282px;top:63px;width:67.2px;height:29px"><span class="t ar" id="t109" style="left:64.37px;top:4.01px;font-size:12.00px;--k:1.0226">2,076.10</span></div>
<div class="c" style="left:351.4px;top:63px;width:65.6px;height:29px"><span class="t ar" id="t110" style="left:63.50px;top:4.01px;font-size:12.00px;--k:0.9067">1.8%</span></div>
<div class="c" style="left:419px;top:63px;width:66.3px;height:29px"><span class="t ar" id="t111" style="left:64.18px;top:4.01px;font-size:12.00px;--k:0.9780">22.2%</span></div>
<div class="c" style="left:0px;top:94px;width:140px;height:29px"><span class="t ac b" id="t112" style="left:71.43px;top:6.96px;font-size:11.60px;--k:1.0631;-webkit-text-stroke:0.3px">Copper (USD/Pound)</span></div>
<div class="c" style="left:143px;top:94px;width:68.2px;height:29px"><span class="t ar" id="t113" style="left:65.39px;top:4.01px;font-size:12.00px;--k:0.9501">4.17</span></div>
<div class="c" style="left:213.2px;top:94px;width:66.6px;height:29px"><span class="t ar" id="t114" style="left:64.28px;top:4.01px;font-size:12.00px;--k:0.9712">4.15</span></div>
<div class="c" style="left:282px;top:94px;width:67.2px;height:29px"><span class="t ar" id="t115" style="left:64.34px;top:4.01px;font-size:12.00px;--k:1.0895">3.89</span></div>
<div class="c" style="left:351.4px;top:94px;width:65.6px;height:29px"><span class="t ar" id="t116" style="left:63.47px;top:4.01px;font-size:12.00px;--k:1.0079">0.3%</span></div>
<div class="c" style="left:419px;top:94px;width:66.3px;height:29px"><span class="t ar" id="t117" style="left:64.21px;top:4.01px;font-size:12.00px;--k:0.8887">7.1%</span></div>
<div class="c" style="left:0px;top:125px;width:140px;height:27.6px"><span class="t ac b" id="t118" style="left:70.82px;top:6.66px;font-size:11.60px;--k:1.0821;-webkit-text-stroke:0.3px">Aluminium (USD/MT)</span></div>
<div class="c" style="left:143px;top:125px;width:68.2px;height:27.6px"><span class="t ar" id="t119" style="left:65.33px;top:4.01px;font-size:12.00px;--k:1.1417">2,369.50</span></div>
<div class="c" style="left:213.2px;top:125px;width:66.6px;height:27.6px"><span class="t ar" id="t120" style="left:64.23px;top:4.01px;font-size:12.00px;--k:1.1417">2,299.00</span></div>
<div class="c" style="left:282px;top:125px;width:67.2px;height:27.6px"><span class="t ar" id="t121" style="left:64.34px;top:4.01px;font-size:12.00px;--k:1.0970">2,335.00</span></div>
<div class="c" style="left:351.4px;top:125px;width:65.6px;height:27.6px"><span class="t ar" id="t122" style="left:63.52px;top:4.01px;font-size:12.00px;--k:0.8598">3.1%</span></div>
<div class="c" style="left:419px;top:125px;width:66.3px;height:27.6px"><span class="t ar" id="t123" style="left:64.22px;top:4.01px;font-size:12.00px;--k:0.8453">1.5%</span></div>
<div class="c" style="left:0px;top:155px;width:140px;height:29px"><span class="t ac b" id="t124" style="left:70.58px;top:7.36px;font-size:11.60px;--k:1.0637;-webkit-text-stroke:0.3px">Crude Oil (USD/Barrel)</span></div>
<div class="c" style="left:143px;top:155px;width:68.2px;height:29px"><span class="t ar" id="t125" style="left:65.38px;top:4.01px;font-size:12.00px;--k:0.9718">73.91</span></div>
<div class="c" style="left:213.2px;top:155px;width:66.6px;height:29px"><span class="t ar" id="t126" style="left:64.31px;top:4.01px;font-size:12.00px;--k:0.9028">78.11</span></div>
<div class="c" style="left:282px;top:155px;width:67.2px;height:29px"><span class="t ar" id="t127" style="left:64.34px;top:4.01px;font-size:12.00px;--k:1.0937">72.48</span></div>
<div class="c" style="left:351.4px;top:155px;width:65.6px;height:29px"><span class="t ar" id="t128" style="left:63.42px;top:4.01px;font-size:12.00px;--k:1.1364">-5.4%</span></div>
<div class="c" style="left:419px;top:155px;width:66.3px;height:29px"><span class="t ar" id="t129" style="left:64.16px;top:4.01px;font-size:12.00px;--k:1.0368">2.0%</span></div>
<div class="c" style="left:0px;top:186.2px;width:140px;height:28.2px"><span class="t ac b" id="t130" style="left:71.28px;top:6.87px;font-size:11.60px;--k:1.0554;-webkit-text-stroke:0.3px">Cotton (USD/Pound)</span></div>
<div class="c" style="left:143px;top:186.2px;width:68.2px;height:28.2px"><span class="t ar" id="t131" style="left:65.31px;top:3.53px;font-size:12.00px;--k:1.2024">68.40</span></div>
<div class="c" style="left:213.2px;top:186.2px;width:66.6px;height:28.2px"><span class="t ar" id="t132" style="left:64.20px;top:3.53px;font-size:12.00px;--k:1.2156">66.45</span></div>
<div class="c" style="left:282px;top:186.2px;width:67.2px;height:28.2px"><span class="t ar" id="t133" style="left:64.31px;top:3.53px;font-size:12.00px;--k:1.1859">80.95</span></div>
<div class="c" style="left:351.4px;top:186.2px;width:65.6px;height:28.2px"><span class="t ar" id="t134" style="left:63.47px;top:3.53px;font-size:12.00px;--k:1.0079">2.9%</span></div>
<div class="c" style="left:419px;top:186.2px;width:66.3px;height:28.2px"><span class="t ar" id="t135" style="left:64.15px;top:3.53px;font-size:12.00px;--k:1.0691">-15.5%</span></div>
<div class="c" style="left:0px;top:216.8px;width:140px;height:28.6px"><span class="t ac b" id="t136" style="left:70.93px;top:7.06px;font-size:11.60px;--k:1.0483;-webkit-text-stroke:0.3px">Sugar (USD/Pound)</span></div>
<div class="c" style="left:143px;top:216.8px;width:68.2px;height:28.6px"><span class="t ar" id="t137" style="left:65.37px;top:4.11px;font-size:12.00px;--k:1.0245">18.02</span></div>
<div class="c" style="left:213.2px;top:216.8px;width:66.6px;height:28.6px"><span class="t ar" id="t138" style="left:64.26px;top:4.11px;font-size:12.00px;--k:1.0542">18.00</span></div>
<div class="c" style="left:282px;top:216.8px;width:67.2px;height:28.6px"><span class="t ar" id="t139" style="left:64.33px;top:4.11px;font-size:12.00px;--k:1.1464">20.49</span></div>
<div class="c" style="left:351.4px;top:216.8px;width:65.6px;height:28.6px"><span class="t ar" id="t140" style="left:63.50px;top:4.11px;font-size:12.00px;--k:0.9031">0.1%</span></div>
<div class="c" style="left:419px;top:216.8px;width:66.3px;height:28.6px"><span class="t ar" id="t141" style="left:64.19px;top:4.11px;font-size:12.00px;--k:0.9309">-12.1%</span></div>
<div class="c" style="left:0px;top:248px;width:140px;height:29px"><span class="t ac b" id="t142" style="left:70.33px;top:6.46px;font-size:11.60px;--k:1.0646;-webkit-text-stroke:0.3px">Palm Oil (USD/MT)</span></div>
<div class="c" style="left:143px;top:248px;width:68.2px;height:29px"><span class="t ar" id="t143" style="left:65.32px;top:3.60px;font-size:12.00px;--k:1.1504">847.24</span></div>
<div class="c" style="left:213.2px;top:248px;width:66.6px;height:29px"><span class="t ar" id="t144" style="left:64.22px;top:3.60px;font-size:12.00px;--k:1.1612">838.42</span></div>
<div class="c" style="left:282px;top:248px;width:67.2px;height:29px"><span class="t ar" id="t145" style="left:64.30px;top:3.60px;font-size:12.00px;--k:1.2153">809.00</span></div>
<div class="c" style="left:351.4px;top:248px;width:65.6px;height:29px"><span class="t ar" id="t146" style="left:63.55px;top:3.60px;font-size:12.00px;--k:0.7550">1.1%</span></div>
<div class="c" style="left:419px;top:248px;width:66.3px;height:29px"><span class="t ar" id="t147" style="left:64.16px;top:3.60px;font-size:12.00px;--k:1.0368">4.7%</span></div>
</section>
<h1><span class="t al b" id="t148" style="left:105.68px;top:49.51px;font-size:41.20px;--k:0.9103;-webkit-text-stroke:2px">BRS</span> <span class="t al b" id="t149" style="left:196.90px;top:49.51px;font-size:41.20px;--k:1.0486;-webkit-text-stroke:2px">MORNING</span> <span class="t al b" id="t150" style="left:416.03px;top:49.51px;font-size:41.20px;--k:0.9827;-webkit-text-stroke:2px">MARKET</span> <span class="t al b" id="t151" style="left:602.19px;top:49.51px;font-size:41.20px;--k:0.9032;-webkit-text-stroke:2px">BRIEF</span></h1>
<p class="date"><span class="t al" id="t152" style="left:104.58px;top:99.26px;font-size:32.60px;--k:1.0170">20. 08. 2024</span></p>
<footer><p class="co"><span class="t al b" id="t153" style="left:99.83px;top:654.15px;font-size:26.30px;--k:1.1187;-webkit-text-stroke:0.7px">Bartleet</span> <span class="t al b" id="t154" style="left:217.45px;top:654.15px;font-size:26.30px;--k:1.1003;-webkit-text-stroke:0.7px">Religare</span> <span class="t al b" id="t155" style="left:340.35px;top:654.15px;font-size:26.30px;--k:1.0873;-webkit-text-stroke:0.7px">Securities</span> <span class="t al b" id="t156" style="left:484.79px;top:654.15px;font-size:26.30px;--k:1.1636;-webkit-text-stroke:0.7px">(Pvt)</span> <span class="t al b" id="t157" style="left:561.60px;top:654.15px;font-size:26.30px;--k:1.0033;-webkit-text-stroke:0.7px">Ltd</span></p><p class="url"><span class="t al" id="t158" style="left:101.16px;top:687.52px;font-size:18.40px;--k:1.1586">www.bartleetreligare.com</span></p><p class="help"><span class="t al" id="t159" style="left:841.75px;top:672.66px;font-size:24.10px;--k:0.8970;color:#525252;-webkit-text-stroke:0.7px">HELP</span> <span class="t al" id="t160" style="left:906.47px;top:672.66px;font-size:24.10px;--k:0.8832;color:#525252;-webkit-text-stroke:0.7px">DESK</span> <span class="t al b" id="t161" style="left:976.71px;top:672.01px;font-size:25.00px;--k:1.0389;color:#525252">+94 114 221 000</span></p></footer>
<svg id="art" width="1280" height="720" viewBox="0 0 1280 720">
<g id="logo"><circle cx="1189.75" cy="76.25" r="38.75" fill="#d3242f"/><g transform="translate(1145 30) scale(0.125)" fill="none" stroke="#fff" stroke-linecap="round" stroke-linejoin="round"><path d="M310 358 V205 H425 A74 76.5 0 0 1 425 358 H310 V535 H430 A88 88.5 0 0 0 430 358" stroke-width="67"/><path d="M300 363 H158 M245 290 L155 363 L245 436" stroke-width="50"/></g></g>
<g id="bear" transform="translate(0 495) scale(0.14584)">
<path fill="url(#gBearD)" d="M222 440 L250 520 L300 600 L320 647 L470 643 Q465 615 420 605 L385 580 L355 500 L335 415 Z"/>
<path fill="url(#gBear)" d="M0 85 C60 80 100 62 160 60 C215 62 260 95 300 120 L345 160 C355 148 385 145 400 165 L415 190 C440 205 490 225 510 250 C525 275 525 320 545 345 L560 372 C560 385 548 400 520 405 L510 420 L490 425 C470 415 455 400 440 395 C410 388 380 390 350 395 C320 420 270 440 215 440 C200 480 185 540 185 595 C215 600 245 620 252 647 L65 650 C58 640 58 630 60 620 C70 580 72 500 70 380 C60 420 50 450 0 470 Z"/>
<g fill="none" stroke="#fff" stroke-width="7" stroke-linecap="round"><path d="M235 195 C275 250 292 300 285 340 C275 390 240 410 218 440 C260 440 310 425 345 398"/><path d="M378 232 C345 228 328 192 350 160"/><path d="M335 290 C325 330 335 365 365 395"/><path d="M70 345 C58 400 60 470 70 560"/><path d="M145 612 C160 602 175 600 192 604"/><path d="M380 606 C390 598 402 597 414 601"/></g><path fill="#fff" d="M498 388 L525 405 L508 420 Z"/><circle cx="494" cy="291" r="7" fill="#fff"/>
</g>
<g id="bull" transform="translate(1200 115) scale(0.08333)">
<path fill="url(#gBullD)" d="M268 46 C250 80 270 125 320 148 L358 108 C320 100 285 80 275 48 Z"/>
<path fill="url(#gBullD)" d="M570 710 L500 760 C460 790 420 830 403 872 C430 895 470 905 500 930 C520 945 535 960 548 978 L605 955 C580 915 540 885 505 862 C540 860 600 860 632 835 Z"/>
<path fill="url(#gBullD)" d="M552 990 L612 965 C635 975 650 1005 640 1030 L518 1046 C520 1030 535 1005 552 990 Z"/>
<path fill="url(#gBull)" d="M75 178 C92 225 140 248 200 250 C230 250 250 246 265 240 C290 200 330 150 400 112 C440 108 470 140 520 140 C580 120 650 100 720 105 C800 110 880 150 960 200 L960 870 C900 950 850 1040 800 1120 L775 1185 L722 1172 C750 1100 775 1020 768 960 C760 930 750 915 740 915 C700 900 660 850 630 800 C590 730 570 640 552 540 C545 500 525 478 490 480 C450 485 410 520 350 545 C290 560 220 560 185 550 C160 540 155 510 170 488 C205 440 222 370 250 296 C200 302 132 296 102 256 C86 232 76 200 75 178 Z"/>
<path fill="url(#gBullD)" d="M712 1190 L768 1205 L750 1257 L612 1257 C640 1230 680 1205 712 1190 Z"/>
<path fill="none" stroke="#fff" stroke-width="9" stroke-linecap="round" d="M742 735 C725 800 730 860 745 915"/>
</g>
<g id="headset" transform="translate(755 640) scale(0.11111)" fill="#595959">
<path d="M163 322 A221 221 0 0 1 605 322 L550 322 A166 170 0 0 0 218 322 Z"/>
<path d="M213 365 H175 A57 57 0 0 0 118 422 V478 A57 57 0 0 0 175 535 H213 Z"/>
<path d="M553 365 H591 A57 57 0 0 1 648 422 V478 A57 57 0 0 1 591 535 H553 Z"/>
<path fill-rule="evenodd" d="M315 292 H458 A25 25 0 0 1 483 317 V415 A25 25 0 0 1 458 440 H437 V492 L372 440 H315 A25 25 0 0 1 290 415 V317 A25 25 0 0 1 315 292 Z M363 345 H412 A22.5 22.5 0 0 1 412 390 H363 A22.5 22.5 0 0 1 363 345 Z"/>
<rect x="333" y="578" width="102" height="52" rx="26"/>
<path fill="none" stroke="#595959" stroke-width="18" stroke-linecap="round" d="M485 605 H535 Q565 605 575 580"/>
</g>
</svg>
</div></body></html>
